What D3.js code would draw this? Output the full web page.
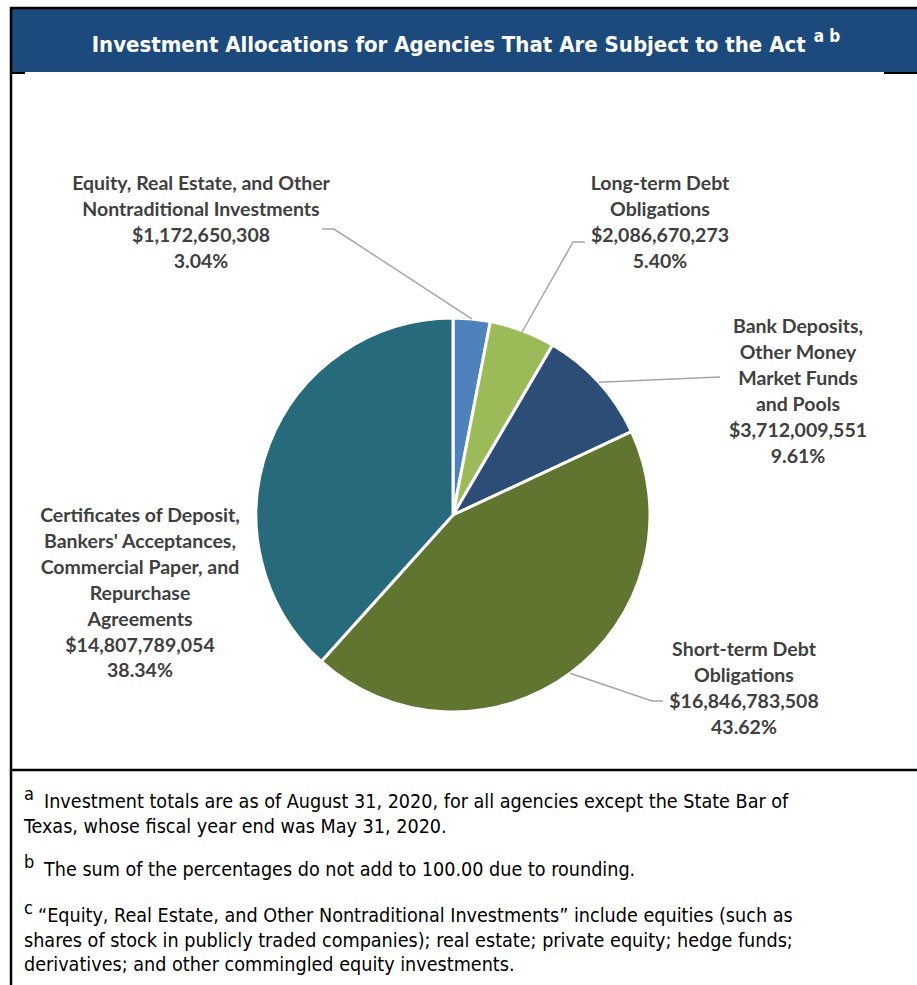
<!DOCTYPE html>
<html>
<head>
<meta charset="utf-8">
<script src="https://cdn.jsdelivr.net/npm/d3@7"></script>
<style>
  html, body { margin: 0; padding: 0; background: #fff; }
  svg { display: block; }
</style>
</head>
<body>
<svg id="chart" width="917" height="985"></svg>
<script>
// Investment categories, in clockwise order from 12 o'clock
const categories = [
  ["Equity, Real Estate, and Other", "Nontraditional Investments"],
  ["Long-term Debt", "Obligations"],
  ["Bank Deposits,", "Other Money", "Market Funds", "and Pools"],
  ["Short-term Debt", "Obligations"],
  ["Certificates of Deposit,", "Bankers' Acceptances,", "Commercial Paper, and", "Repurchase", "Agreements"]
];
const amounts = [1172650308, 2086670273, 3712009551, 16846783508, 14807789054];
const percentLabels = ["3.04%", "5.40%", "9.61%", "43.62%", "38.34%"];
const sliceColors = ["#4f81bd", "#9bbb59", "#2c4d75", "#5f7530", "#276a7c"];

const titleText = "Investment Allocations for Agencies That Are Subject to the Act";
const footnotes = [
  { mark: "a", lines: ["Investment totals are as of August 31, 2020, for all agencies except the State Bar of",
                       "Texas, whose fiscal year end was May 31, 2020."] },
  { mark: "b", lines: ["The sum of the percentages do not add to 100.00 due to rounding."] },
  { mark: "c", lines: ["\u201cEquity, Real Estate, and Other Nontraditional Investments\u201d include equities (such as",
                       "shares of stock in publicly traded companies); real estate; private equity; hedge funds;",
                       "derivatives; and other commingled equity investments."] }
];

const svg = d3.select("#chart");
const W = 917, H = 985;

// Frame and title band
svg.append("rect").attr("x", 12).attr("y", 9).attr("width", W - 12).attr("height", 63).attr("fill", "#1c4a7c");
svg.append("line").attr("x1", 10).attr("x2", W).attr("y1", 8).attr("y2", 8).attr("stroke", "#000").attr("stroke-width", 2.5);
svg.append("line").attr("x1", 11).attr("x2", 11).attr("y1", 7).attr("y2", H).attr("stroke", "#000").attr("stroke-width", 2.5);
svg.append("line").attr("x1", 12).attr("x2", 25).attr("y1", 73).attr("y2", 73).attr("stroke", "#000").attr("stroke-width", 2);
svg.append("line").attr("x1", 884).attr("x2", W).attr("y1", 73).attr("y2", 73).attr("stroke", "#000").attr("stroke-width", 2);
svg.append("line").attr("x1", 10).attr("x2", W).attr("y1", 770).attr("y2", 770).attr("stroke", "#000").attr("stroke-width", 2.5);

// Title
const title = svg.append("text")
  .attr("x", 466).attr("y", 52)
  .attr("text-anchor", "middle")
  .attr("fill", "#fff")
  .attr("font-family", "'DejaVu Sans Condensed', 'DejaVu Sans', sans-serif")
  .attr("font-stretch", "condensed")
  .attr("font-weight", "bold")
  .attr("font-size", 22);
title.append("tspan").text(titleText);
title.append("tspan").attr("font-size", 17).attr("dy", -10).attr("dx", 8).text("a b");

// Pie
const cx = 453, cy = 515, R = 197;
const pie = d3.pie().sort(null).value(d => d)(amounts);
const arc = d3.arc().innerRadius(0).outerRadius(R);
const g = svg.append("g").attr("transform", `translate(${cx},${cy})`);
g.selectAll("path").data(pie).join("path")
  .attr("d", arc)
  .attr("fill", (d, i) => sliceColors[i])
  .attr("stroke", "#fff")
  .attr("stroke-width", 3)
  .attr("stroke-linejoin", "round");

// Leader lines: start on the slice edge at its mid angle, bend toward the label
const edge = (i, f) => {
  const a = (pie[i].startAngle + pie[i].endAngle) / 2;
  return [cx + Math.sin(a) * R * f, cy - Math.cos(a) * R * f];
};
const leaders = [
  [edge(0, 1.0), [334, 229], [322, 229]],
  [edge(1, 0.99), [573, 242], [585, 242]],
  [edge(2, 1.0), [720, 377]],
  [edge(3, 1.0), [652, 701], [663, 701]]
];
const lineGen = d3.line();
svg.selectAll("path.leader").data(leaders).join("path")
  .attr("class", "leader")
  .attr("d", d => lineGen(d))
  .attr("fill", "none")
  .attr("stroke", "#a6a6a6")
  .attr("stroke-width", 1.5);

// Data labels
const labelPos = [[201, 190], [660, 190], [798, 333], [744, 656], [140, 522]];
const fmt = d3.format(",");
categories.forEach((lines, i) => {
  const all = lines.concat(["$" + fmt(amounts[i]), percentLabels[i]]);
  const t = svg.append("text")
    .attr("x", labelPos[i][0]).attr("y", labelPos[i][1])
    .attr("text-anchor", "middle")
    .attr("fill", "#404040")
    .attr("font-family", "Lato, 'Open Sans', sans-serif")
    .attr("font-weight", "bold")
    .attr("font-size", 19.5);
  all.forEach((s, k) => {
    t.append("tspan").attr("x", labelPos[i][0]).attr("dy", k === 0 ? 0 : 25.9).text(s);
  });
});

// Footnotes
const fnFont = "'DejaVu Sans Condensed', 'Liberation Sans Narrow', 'DejaVu Sans', sans-serif";
const fnStarts = [808, 876, 922];
const fnIndent = [44, 44, 38];
footnotes.forEach((fn, i) => {
  svg.append("text")
    .attr("x", 24).attr("y", fnStarts[i] - 8)
    .attr("font-family", fnFont).attr("font-stretch", "condensed")
    .attr("font-size", 18).attr("fill", "#000")
    .text(fn.mark);
  fn.lines.forEach((s, k) => {
    svg.append("text")
      .attr("x", k === 0 ? fnIndent[i] : 24).attr("y", fnStarts[i] + k * 24.5)
      .attr("font-family", fnFont).attr("font-stretch", "condensed")
      .attr("font-size", 19.6).attr("fill", "#000")
      .text(s);
  });
});
</script>
</body>
</html>
